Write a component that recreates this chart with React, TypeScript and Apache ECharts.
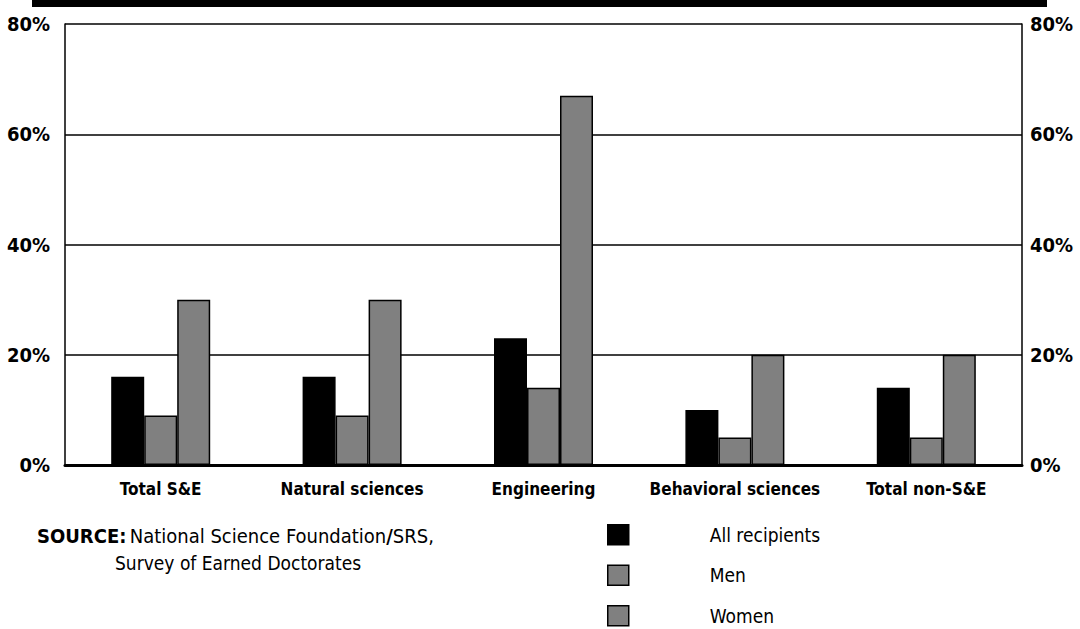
import React, { useEffect, useRef } from "react";
import * as echarts from "echarts";

const categories = ["Total S&E", "Natural sciences", "Engineering", "Behavioral sciences", "Total non-S&E"];
const allRecipients = [16, 16, 23, 10, 14];
const men = [9, 9, 14, 5, 5];
const women = [30, 30, 67, 20, 20];
const seriesNames = ["All recipients", "Men", "Women"];

const FONT = "'Liberation Sans Narrow', 'DejaVu Sans Condensed', Arial, sans-serif";

export default function App() {
  const ref = useRef<HTMLDivElement>(null);
  useEffect(() => {
    document.body.style.margin = "0";
    const chart = echarts.init(ref.current!, null, { renderer: "svg" });
    const barStyle = (color: string) => ({ color, borderColor: "#000", borderWidth: 1.5 });
    const yBase = {
      type: "value",
      min: 0,
      max: 80,
      interval: 20,
      axisLine: { show: true, lineStyle: { color: "#000", width: 1.5 } },
      axisTick: { show: false },
      splitLine: { show: true, lineStyle: { color: "#000", width: 1.5 } },
      axisLabel: {
        formatter: "{value}%",
        color: "#000",
        fontFamily: FONT,
        fontWeight: "bold",
        fontSize: 20,
      },
    };
    chart.setOption({
      animation: false,
      backgroundColor: "#fff",
      grid: { left: 65, right: 58, top: 24, bottom: 164, containLabel: false },
      legend: {
        orient: "vertical",
        left: 607,
        top: 524,
        padding: 0,
        itemWidth: 21,
        itemHeight: 20,
        itemGap: 19,
        icon: "rect",
        data: seriesNames,
        itemStyle: { borderColor: "#000", borderWidth: 1.5 },
        textStyle: {
          fontFamily: FONT,
          fontSize: 19,
          color: "#000",
          padding: [0, 0, 0, 76],
        },
      },
      xAxis: {
        type: "category",
        data: categories,
        axisLine: { show: true, lineStyle: { color: "#000", width: 3 } },
        axisTick: { show: false },
        axisLabel: {
          color: "#000",
          fontFamily: FONT,
          fontWeight: "bold",
          fontSize: 17,
          margin: 15,
          interval: 0,
        },
      },
      yAxis: [
        { ...yBase, position: "left", axisLabel: { ...yBase.axisLabel, margin: 15 } },
        { ...yBase, position: "right", splitLine: { show: false }, axisLabel: { ...yBase.axisLabel, margin: 8 } },
      ],
      series: [
        { name: seriesNames[0], type: "bar", data: allRecipients, barWidth: 33, barGap: "0%", itemStyle: barStyle("#000") },
        { name: seriesNames[1], type: "bar", data: men, barWidth: 33, barGap: "0%", itemStyle: barStyle("#808080") },
        { name: seriesNames[2], type: "bar", data: women, barWidth: 33, barGap: "0%", itemStyle: barStyle("#808080") },
      ],
      graphic: [
        { type: "rect", left: 32, top: 0, shape: { width: 1015, height: 7 }, style: { fill: "#000" } },
        {
          type: "text",
          left: 37,
          top: 526,
          style: {
            rich: {
              b: { fontFamily: FONT, fontWeight: "bold", fontSize: 20, fill: "#000" },
              r: { fontFamily: FONT, fontSize: 20, fill: "#000" },
            },
            text: "{b|SOURCE:} {r|National Science Foundation}{b|/}{r|SRS,}",
          },
        },
        {
          type: "text",
          left: 115,
          top: 553,
          style: { text: "Survey of Earned Doctorates", fontFamily: FONT, fontSize: 19, fill: "#000" },
        },
      ],
    });
    return () => chart.dispose();
  }, []);
  return <div ref={ref} style={{ width: 1080, height: 629, position: "absolute", left: 0, top: 0 }} />;
}
